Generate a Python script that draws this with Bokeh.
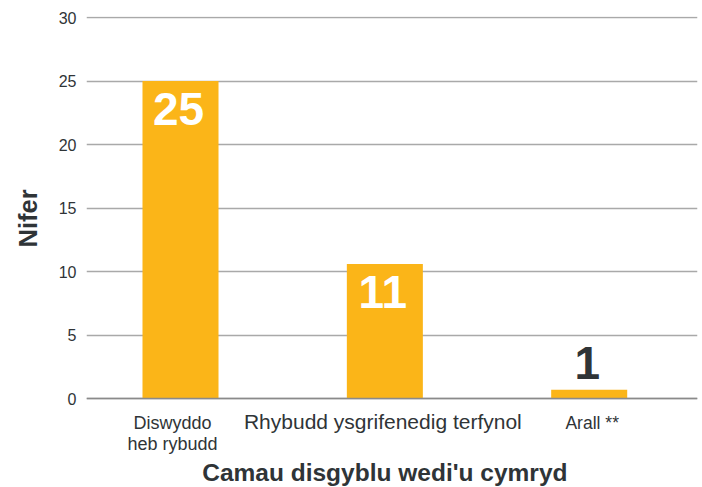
from bokeh.plotting import figure
from bokeh.models import Range1d, FixedTicker, Span, ColumnDataSource, Title
from bokeh.embed import file_html
from bokeh.resources import INLINE
from bokeh.core.properties import value

# ---- data ----
categories = ["Diswyddo\nheb rybudd", "Rhybudd ysgrifenedig terfynol", "Arall **"]
bar_values = [25, 10.6, 0.7]
value_labels = ["25", "11", "1"]
y_ticks = [0, 5, 10, 15, 20, 25, 30]
y_title = "Nifer"
x_title = "Camau disgyblu wedi'u cymryd"

# ---- style ----
FONT = "Liberation Sans"
BAR = "#FBB518"
TXT = "#2f3437"
GRID = "#a9a9a9"
cat_sizes = ["18px", "21px", "17.5px"]
cat_offsets = [14, 11, 14]
cat_xoffsets = [-8, -2, 3]

xs = list(range(len(categories)))

# frame extends below zero so that category labels can be drawn as glyphs
p = figure(width=702, height=487, output_backend="svg", toolbar_location=None,
           x_range=Range1d(-0.46, 2.53), y_range=Range1d(-7.0, 30.08),
           min_border_left=86, min_border_right=5, min_border_top=16,
           min_border_bottom=0)
p.outline_line_color = None
p.background_fill_color = "white"
p.border_fill_color = "white"

# grid
p.xgrid.grid_line_color = None
p.ygrid.ticker = FixedTicker(ticks=y_ticks)
p.ygrid.grid_line_color = GRID
p.ygrid.grid_line_width = 1.5

# bars
src = ColumnDataSource(dict(
    x=xs, top=bar_values, lab=value_labels,
    col=["white" if v > 5 else TXT for v in bar_values],
    off=[28 if v > 5 else -27 for v in bar_values],
))
p.vbar(x="x", top="top", width=0.372, bottom=0, source=src,
       fill_color=BAR, line_color=None)

p.add_layout(Span(location=0, dimension="width", line_color="#8a8a8a", line_width=1.5))

p.text(x="x", y="top", text="lab", source=src, text_color="col",
       y_offset="off", x_offset=-2, text_align="center", text_baseline="middle",
       text_font=value(FONT), text_font_style="bold", text_font_size="46px")

# category labels
csrc = ColumnDataSource(dict(x=xs, y=[0] * len(xs), t=categories,
                             fs=cat_sizes, off=cat_offsets, xoff=cat_xoffsets))
p.text(x="x", y="y", text="t", source=csrc, y_offset="off", x_offset="xoff",
       text_align="center", text_baseline="top", text_font=value(FONT),
       text_font_size="fs", text_color=TXT, text_line_height=1.05)

# x title
p.text(x=[1], y=[0], text=[x_title], y_offset=74, text_align="center",
       text_baseline="middle", text_font=value(FONT), text_font_style="bold",
       text_font_size="24.5px", text_color=TXT)

# y axis
p.yaxis.ticker = FixedTicker(ticks=y_ticks)
p.yaxis.axis_line_color = None
p.yaxis.major_tick_line_color = None
p.yaxis.minor_tick_line_color = None
p.yaxis.major_tick_out = 0
p.yaxis.major_tick_in = 0
p.yaxis.major_label_standoff = 10
p.yaxis.major_label_text_font = FONT
p.yaxis.major_label_text_font_size = "16px"
p.yaxis.major_label_text_color = TXT

p.add_layout(Title(text=y_title, align="left", offset=240, standoff=23,
                   vertical_align="top",
                   text_font=FONT, text_font_style="bold",
                   text_font_size="25.5px", text_color=TXT), "left")

p.xaxis.visible = False

open("out.html", "w").write(file_html(p, INLINE))
